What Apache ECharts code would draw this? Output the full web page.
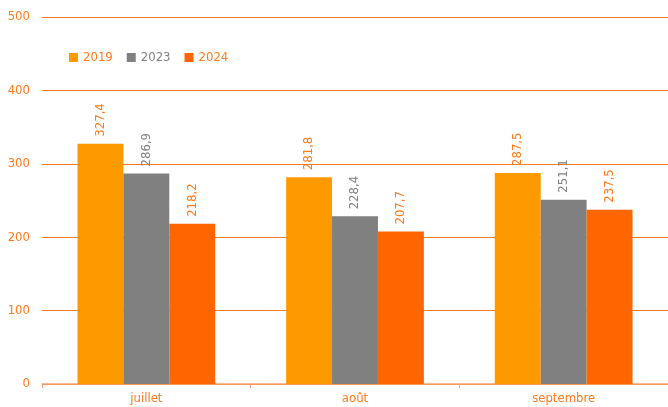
<!DOCTYPE html>
<html>
<head>
<meta charset="utf-8">
<script src="https://cdn.jsdelivr.net/npm/echarts@6/dist/echarts.min.js"></script>
<style>
  html, body { margin: 0; padding: 0; background: #fff; }
  #chart { width: 668px; height: 407px; }
</style>
</head>
<body>
<div id="chart"></div>
<script>
// données
const months = ["juillet", "août", "septembre"];
const years = ["2019", "2023", "2024"];
const values2019 = [327.4, 281.8, 287.5];
const values2023 = [286.9, 228.4, 251.1];
const values2024 = [218.2, 207.7, 237.5];
const yTicks = [0, 100, 200, 300, 400, 500];

const colors = ["#FF9900", "#808080", "#FF6600"];
const labelColors = ["#FF7A1A", "#808080", "#FF7A1A"];
const fontFam = "'DejaVu Sans Condensed', 'Liberation Sans Narrow', sans-serif";

const chart = echarts.init(document.getElementById("chart"));

const seriesData = [values2019, values2023, values2024];
const series = seriesData.map((data, i) => ({
  name: years[i],
  type: "bar",
  data: data,
  barGap: 0,
  barCategoryGap: "34%",
  itemStyle: { color: colors[i] },
  label: {
    show: true,
    position: "top",
    rotate: 90,
    align: "left",
    verticalAlign: "middle",
    distance: 7,
    color: labelColors[i],
    fontSize: 13,
    fontFamily: fontFam,
    formatter: (p) => p.value.toFixed(1).replace(".", ",")
  }
}));

chart.setOption({
  animation: false,
  textStyle: { fontFamily: fontFam },
  grid: { left: 42, right: 0, top: 17, bottom: 23 },
  legend: {
    left: 64,
    top: 46,
    icon: "rect",
    itemWidth: 9,
    itemHeight: 9,
    itemGap: 14,
    data: years.map((y, i) => ({ name: y, textStyle: { color: labelColors[i] } })),
    textStyle: { fontSize: 13, fontFamily: fontFam }
  },
  xAxis: {
    type: "category",
    data: months,
    axisLine: { lineStyle: { color: "#FBA374", width: 1.5 } },
    axisTick: { show: true, length: 4, lineStyle: { color: "#FBA374" } },
    axisLabel: { color: "#FF7A1A", fontSize: 13, margin: 8 }
  },
  yAxis: {
    type: "value",
    min: yTicks[0],
    max: yTicks[yTicks.length - 1],
    interval: 100,
    axisLine: { show: false },
    axisTick: { show: false },
    axisLabel: { color: "#FF7A1A", fontSize: 13, margin: 12 },
    splitLine: { lineStyle: { color: "#F57A22", width: 1 } }
  },
  series: series
});
</script>
</body>
</html>
